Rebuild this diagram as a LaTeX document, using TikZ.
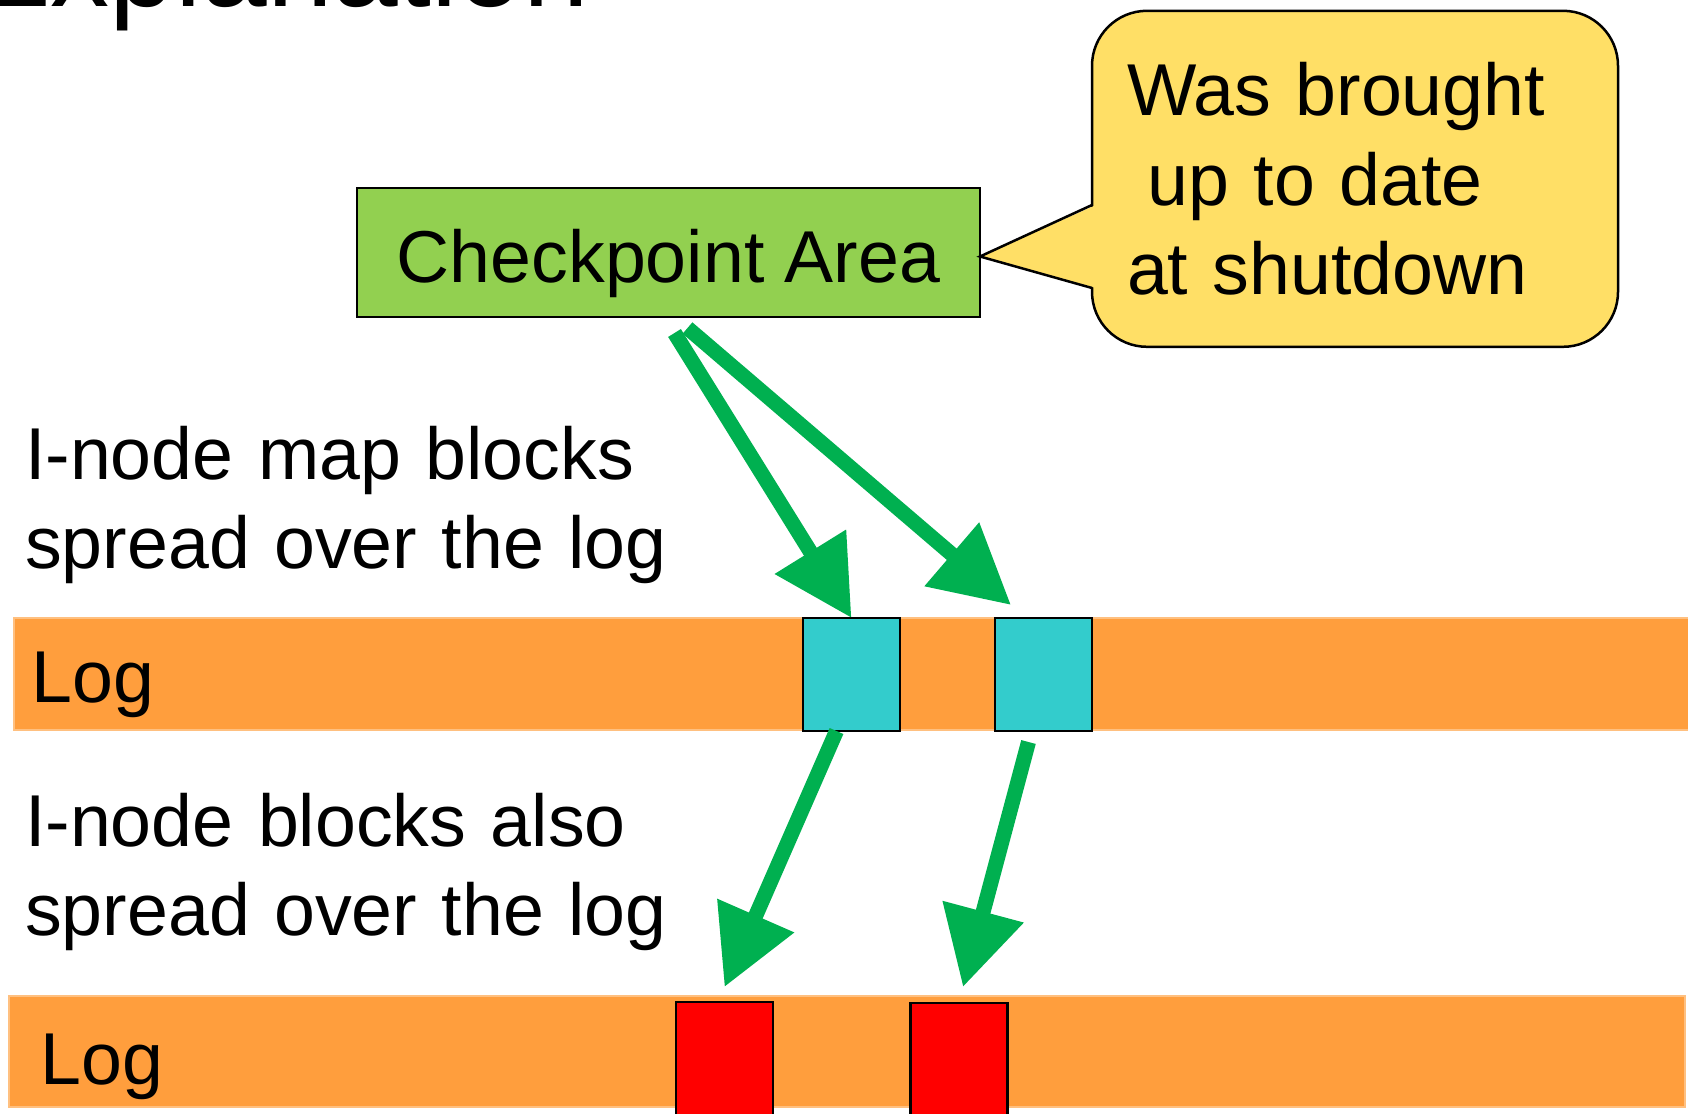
\documentclass[tikz,border=0pt]{standalone}
\usepackage{fontspec}
\setmainfont{Liberation Sans}
\usetikzlibrary{arrows.meta}

\definecolor{CheckpointColor}{RGB}{146,208,80}
\definecolor{NoteColor}{RGB}{255,223,102}
\definecolor{LogColor}{RGB}{255,158,61}
\definecolor{LogEdgeColor}{RGB}{255,192,128}
\definecolor{MapColor}{RGB}{51,204,204}
\definecolor{InodeColor}{RGB}{255,0,0}
\definecolor{ArrowColor}{RGB}{0,176,80}

\tikzstyle{base}=[rectangle,
                  draw=black,
                  line width=2.5pt,
                  inner sep=0pt,
                  outer sep=0pt]
\tikzstyle{checkpoint}=[base, fill={CheckpointColor}, minimum width=623pt, minimum height=129pt, text height=59pt, text depth=0pt]
\tikzstyle{mapblock}=[base, fill={MapColor}, minimum width=97pt, minimum height=113pt]
\tikzstyle{inodeblock}=[base, fill={InodeColor}, minimum width=97pt, minimum height=120pt, anchor=north]
\tikzstyle{notebox}=[base, fill={NoteColor}, rounded corners=55pt, anchor=north west,
                     minimum width=526pt, minimum height=336pt, inner xsep=35pt,
                     text width=456pt, align=left]
\tikzstyle{logbar}=[rectangle, fill={LogColor}, draw={LogEdgeColor}, line width=2pt,
                    inner sep=0pt, outer sep=0pt, anchor=north west]
\tikzstyle{textline}=[inner sep=0pt, anchor=base west, text width=700pt, align=left]
\tikzstyle{greenarrow}=[draw={ArrowColor}, line width=15pt, -{Triangle[length=78pt,width=80pt]}]

\begin{document}
\begin{tikzpicture}[x=1pt, y=-1pt,
                    font=\fontsize{73.5pt}{89.5pt}\selectfont]
    \useasboundingbox (0,0) rectangle (1688,1113);

    \node at (-28,    7.0) (title)     [textline, text width=900pt, font=\fontsize{118pt}{140pt}\selectfont] {Explanation};

    \node at (14,   618.0) (log1)      [logbar, minimum width=1690pt, minimum height=112pt] {};
    \node at (9,    996.0) (log2)      [logbar, minimum width=1676pt, minimum height=111pt] {};
    \node at (31.5, 702.0) (logname1)  [textline]     {Log};
    \node at (40.5,1084.0) (logname2)  [textline]     {Log};

    \node at (851.5, 674.5) (imap1)    [mapblock]     {};
    \node at (1043.5,674.5) (imap2)    [mapblock]     {};
    \node at (724.5,1002.0) (ino1)     [inodeblock]   {};
    \node at (959.0,1003.0) (ino2)     [inodeblock]   {};

    \node at (668.5, 252.5) (cp)       [checkpoint]   {Checkpoint Area};
    \node at (1092,   10.8) (note)     [notebox]      {Was brought\\\hspace*{0.278em}up to date\\at shutdown};
    \coordinate (notetop) at (1092, 205);
    \coordinate (notebot) at (1092, 288);
    \fill[NoteColor] ([xshift=4pt]notetop) -- ([yshift=-4pt]cp.east) -- ([xshift=4pt]notebot) -- cycle;
    \draw[line width=2.5pt] (notetop) -- ([yshift=-4pt]cp.east) -- (notebot);

    \node at (25,   479.0) (mapnote)   [textline]     {I-node map blocks\\spread over the log};
    \node at (25,   846.0) (inodenote) [textline]     {I-node blocks also\\spread over the log};

    \draw[greenarrow] ([xshift=6pt, yshift=-16pt]cp.south)     -- (imap1.north);
    \draw[greenarrow] ([xshift=19pt, yshift=-11pt]cp.south)    -- ([xshift=16pt, yshift=13pt]imap2.north west);
    \draw[greenarrow] ([xshift=-15pt]imap1.south)              -- ([yshift=15pt]ino1.north);
    \draw[greenarrow] ([xshift=-15pt, yshift=-11pt]imap2.south) -- ([xshift=4pt, yshift=16pt]ino2.north);
\end{tikzpicture}
\end{document}
